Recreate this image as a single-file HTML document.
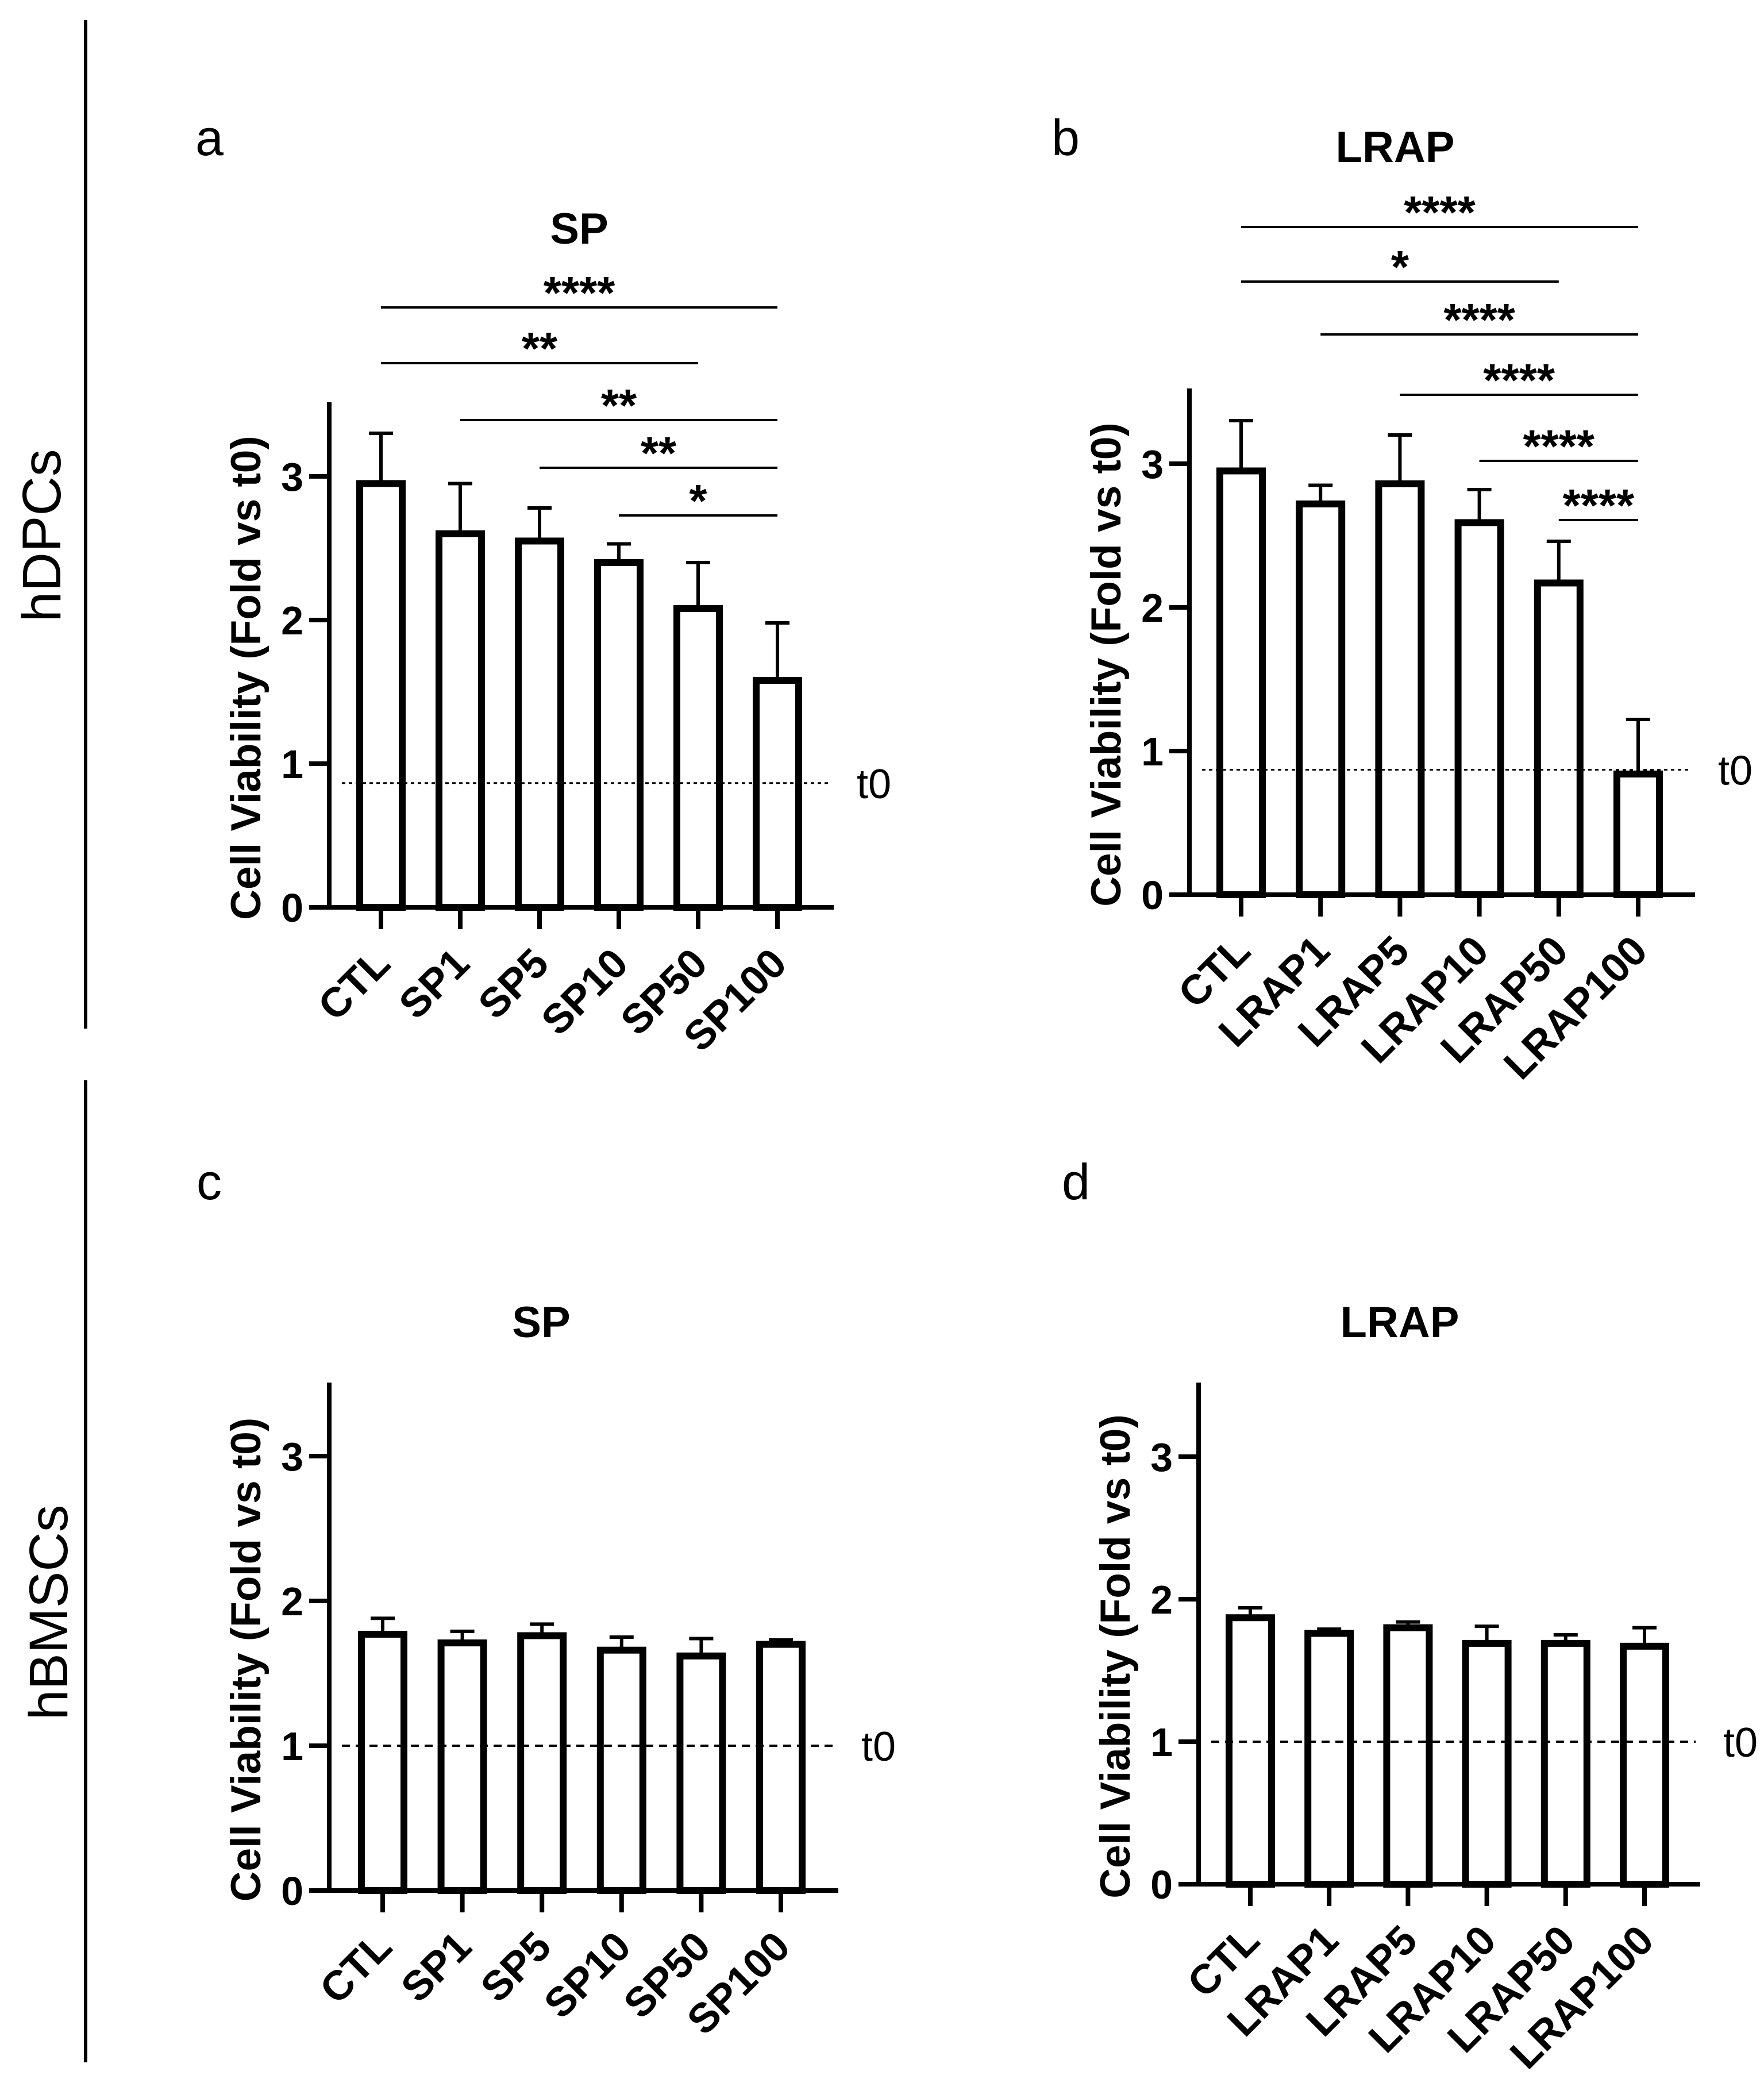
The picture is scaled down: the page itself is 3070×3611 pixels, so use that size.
<!DOCTYPE html>
<html><head><meta charset="utf-8"><style>
html,body{margin:0;padding:0;background:#fff;}
svg{display:block;}
text{font-family:"Liberation Sans",Arial,sans-serif;}
</style></head><body>
<svg id="fig" width="3070" height="3611" viewBox="0 0 3070 3611" xmlns="http://www.w3.org/2000/svg">
<line x1="149" y1="35" x2="149" y2="1790" stroke="#000" stroke-width="6"/>
<line x1="149" y1="1880" x2="149" y2="3589" stroke="#000" stroke-width="6"/>
<text x="0" y="0" transform="translate(105,932) rotate(-90)" text-anchor="middle" font-size="95">hDPCs</text>
<text x="0" y="0" transform="translate(117,2806) rotate(-90)" text-anchor="middle" font-size="95">hBMSCs</text>
</svg>
<script>
const catsSP = ["CTL","SP1","SP5","SP10","SP50","SP100"];
const catsLRAP = ["CTL","LRAP1","LRAP5","LRAP10","LRAP50","LRAP100"];
const meanA = [2.95,2.60,2.55,2.40,2.08,1.58];
const errA  = [3.30,2.95,2.78,2.53,2.40,1.98];
const meanB = [2.95,2.72,2.86,2.59,2.17,0.84];
const errB  = [3.30,2.85,3.20,2.82,2.46,1.22];
const meanC = [1.77,1.71,1.76,1.66,1.62,1.70];
const errC  = [1.88,1.79,1.84,1.75,1.74,1.73];
const meanD = [1.87,1.76,1.80,1.69,1.69,1.67];
const errD  = [1.94,1.79,1.84,1.81,1.75,1.80];
const yTicks = [0,1,2,3];
const t0A = 0.865, t0B = 0.87, t0C = 1, t0D = 1;
const sigA = [[0,5,"****"],[0,4,"**"],[1,5,"**"],[2,5,"**"],[3,5,"*"]];
const sigB = [[0,5,"****"],[0,4,"*"],[1,5,"****"],[2,5,"****"],[3,5,"****"],[4,5,"****"]];
const sigYA = [535,632,731,814,897];
const sigYB = [395,490,582,687,802,905];

const NS="http://www.w3.org/2000/svg";
const svg=document.getElementById('fig');
function mk(tag,attrs,parent){const e=document.createElementNS(NS,tag);for(const k in attrs)e.setAttribute(k,attrs[k]);(parent||svg).appendChild(e);return e;}

function panel(cfg){
  const g=mk('g',{});
  
  
  const yS=v=>cfg.y0-v*cfg.pu;
  const xS=i=>cfg.c0+i*cfg.dx;
  const lt=mk('text',{x:cfg.lx,y:cfg.ly,'font-size':88},g);lt.textContent=cfg.id;
  
  
  const tt=mk('text',{x:cfg.tx,y:cfg.ty+4,'font-size':76,'font-weight':'bold','text-anchor':'middle'},g);tt.textContent=cfg.title;
  
  
  const yt=mk('text',{transform:`translate(${cfg.ax-120},${(cfg.y0+cfg.top)/2+40}) rotate(-90)`,'font-size':73,'font-weight':'bold','text-anchor':'middle'},g);
  yt.textContent='Cell Viability (Fold vs t0)';
  
  
  cfg.mean.forEach((v,i)=>{
    const cx=xS(i), top=yS(v), et=yS(cfg.err[i]);
    const el=mk('line',{x1:cx,y1:top,x2:cx,y2:et,stroke:'#000','stroke-width':6},g);
    
    
    const cap=mk('line',{x1:cx-21,y1:et,x2:cx+21,y2:et,stroke:'#000','stroke-width':6},g);
    
    
    const r=mk('rect',{x:cx-37,y:top,width:74,height:cfg.y0-top,fill:'#fff',stroke:'#000','stroke-width':12},g);
    
    
    const tk=mk('line',{x1:cx,y1:cfg.y0,x2:cx,y2:cfg.y0+38,stroke:'#000','stroke-width':8},g);
    
    
    const lb=mk('text',{transform:`translate(${cx+20},${cfg.y0+102}) rotate(-45)`,'font-size':72,'font-weight':'bold','text-anchor':'end'},g);
    lb.textContent=cfg.cats[i];
    
    
  });
  const ya=mk('line',{x1:cfg.ax,y1:cfg.top,x2:cfg.ax,y2:cfg.y0+4,stroke:'#000','stroke-width':8},g);
  
  
  const xa=mk('line',{x1:cfg.ax-35,y1:cfg.y0,x2:cfg.xe,y2:cfg.y0,stroke:'#000','stroke-width':8},g);
  
  
  yTicks.forEach(t=>{
    const y=yS(t);
    const tk=mk('line',{x1:cfg.ax-35,y1:y,x2:cfg.ax,y2:y,stroke:'#000','stroke-width':8},g);
    
    
    const tl=mk('text',{x:cfg.ax-45,y:y+25,'font-size':70,'font-weight':'bold','text-anchor':'end'},g);
    tl.textContent=t;
    
    
  });
  const ty=yS(cfg.t0);
  const tl=mk('line',{x1:cfg.ax+22,y1:ty,x2:cfg.xe-8,y2:ty,stroke:'#000','stroke-width':cfg.dashed?4:3,'stroke-dasharray':cfg.dashed?'14 10':'6 6'},g);
  
  
  const tlab=mk('text',{x:cfg.xe+40,y:ty+26,'font-size':72},g);tlab.textContent='t0';
  
  
  (cfg.sig||[]).forEach((s,k)=>{
    const y=cfg.sigY[k], x1=xS(s[0]), x2=xS(s[1]);
    const l=mk('line',{x1:x1,y1:y,x2:x2,y2:y,stroke:'#000','stroke-width':4},g);
    
    
    const st=mk('text',{x:(x1+x2)/2,y:y+2,'font-size':80,'font-weight':'bold','text-anchor':'middle'},g);
    st.textContent=s[2];
    
    
  });
}
panel({id:'a',title:'SP',cats:catsSP,mean:meanA,err:errA,t0:t0A,dashed:false,y0:1579,pu:250,top:700,ax:573,xe:1451,c0:663,dx:138,lx:340,ly:270,tx:1008,ty:420,sig:sigA,sigY:sigYA});
panel({id:'b',title:'LRAP',cats:catsLRAP,mean:meanB,err:errB,t0:t0B,dashed:false,y0:1557,pu:250,top:676,ax:2070,xe:2950,c0:2160,dx:138.2,lx:1830,ly:270,tx:2428,ty:278,sig:sigB,sigY:sigYB});
panel({id:'c',title:'SP',cats:catsSP,mean:meanC,err:errC,t0:t0C,dashed:true,y0:3290,pu:252,top:2406,ax:573,xe:1459,c0:666,dx:138.6,lx:342,ly:2087,tx:942,ty:2323});
panel({id:'d',title:'LRAP',cats:catsLRAP,mean:meanD,err:errD,t0:t0D,dashed:true,y0:3279,pu:248,top:2406,ax:2086,xe:2959,c0:2176,dx:137.2,lx:1848,ly:2087,tx:2436,ty:2323});
</script>
</body></html>
